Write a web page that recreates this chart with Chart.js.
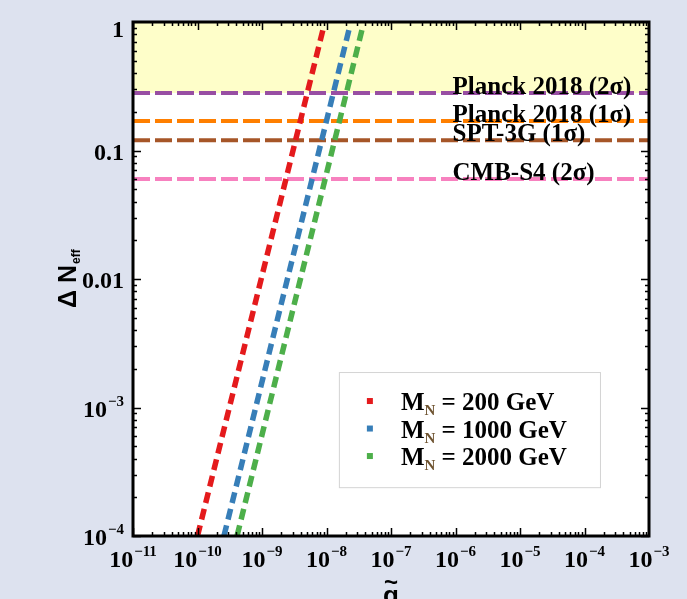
<!DOCTYPE html>
<html>
<head>
<meta charset="utf-8">
<script src="https://cdn.jsdelivr.net/npm/chart.js@4.4.1/dist/chart.umd.min.js"></script>
<style>
  html, body { margin: 0; padding: 0; background: #dde2ef; }
  #wrap { width: 687px; height: 599px; }
</style>
</head>
<body>
<div id="wrap"><canvas id="chart" width="687" height="599"></canvas></div>
<script>
// --- data ---
const xMin = 1e-11, xMax = 1e-3;
const yMin = 1e-4, yMax = 1;
const xTickExps = [-11, -10, -9, -8, -7, -6, -5, -4, -3];
const yTickVals = [1, 0.1, 0.01, 1e-3, 1e-4];
const yTickLabels = [['1', ''], ['0.1', ''], ['0.01', ''], ['10', '\u22123'], ['10', '\u22124']];

// Delta N_eff vs g~ for three heavy neutrino masses (end points of each line)
const massLabels = ['200 GeV', '1000 GeV', '2000 GeV'];
const massColors = ['#e41a1c', '#377eb8', '#4daf4a'];
const curveG = [[1.0e-10, 8.8e-9], [2.57e-10, 2.23e-8], [4.1e-10, 3.55e-8]];
const curveN = [[1e-4, 0.87], [1e-4, 0.87], [1e-4, 0.87]];

// experimental bounds
const boundNames = ['Planck 2018 (2\u03c3)', 'Planck 2018 (1\u03c3)', 'SPT-3G (1\u03c3)', 'CMB-S4 (2\u03c3)'];
const boundValues = [0.28, 0.17, 0.12, 0.06];
const boundColors = ['#984ea3', '#ff7f00', '#a65628', '#f781bf'];
const boundLabelG = 9e-7;

const serif = '"Liberation Serif", "Times New Roman", serif';
const sans = '"Liberation Sans", Arial, sans-serif';

// --- datasets ---
const datasets = [];
curveG.forEach(function(g, i) {
    datasets.push({
        label: massLabels[i],
        data: g.map(function(v, j) { return { x: v, y: curveN[i][j] }; }),
        borderColor: massColors[i],
        borderWidth: 5.5,
        borderDash: [11, 6],
        pointRadius: 0,
        fill: false
    });
});
boundValues.forEach(function(v, i) {
    datasets.push({
        label: boundNames[i],
        data: [{ x: xMin, y: v }, { x: xMax, y: v }],
        borderColor: boundColors[i],
        borderWidth: 4,
        borderDash: [17, 5],
        pointRadius: 0,
        // excluded region above Planck 2018 (2 sigma)
        fill: i === 0 ? 'end' : false,
        backgroundColor: '#fefec9'
    });
});

// draw "base^sup" text
function drawSup(ctx, base, sup, x, y, align, size, supSize, supRise) {
    ctx.font = 'bold ' + size + 'px ' + serif;
    const wb = ctx.measureText(base).width;
    ctx.font = 'bold ' + supSize + 'px ' + serif;
    const ws = sup ? ctx.measureText(sup).width + 1 : 0;
    const w = wb + ws;
    let x0 = x;
    if (align === 'center') x0 = x - w / 2;
    if (align === 'right') x0 = x - w;
    ctx.textAlign = 'left';
    ctx.textBaseline = 'alphabetic';
    ctx.font = 'bold ' + size + 'px ' + serif;
    ctx.fillText(base, x0, y);
    if (sup) {
        ctx.font = 'bold ' + supSize + 'px ' + serif;
        ctx.fillText(sup, x0 + wb + 1, y - supRise);
    }
}

const decorPlugin = {
    id: 'decor',
    beforeDraw: function(chart) {
        const ctx = chart.ctx, a = chart.chartArea;
        ctx.save();
        ctx.fillStyle = '#dde2ef';
        ctx.fillRect(0, 0, chart.width, chart.height);
        ctx.fillStyle = '#ffffff';
        ctx.fillRect(a.left, a.top, a.right - a.left, a.bottom - a.top);
        ctx.restore();
    },
    afterDatasetsDraw: function(chart) {
        const ctx = chart.ctx, a = chart.chartArea;
        const xs = chart.scales.x, ys = chart.scales.y;
        ctx.save();
        ctx.fillStyle = '#000';
        ctx.strokeStyle = '#000';

        // bound labels
        boundNames.forEach(function(name, i) {
            ctx.font = 'bold 25px ' + serif;
            ctx.textAlign = 'left';
            ctx.textBaseline = 'alphabetic';
            ctx.fillText(name, xs.getPixelForValue(boundLabelG), ys.getPixelForValue(boundValues[i]) + 1);
        });

        // inward ticks on all four sides
        ctx.lineWidth = 1.5;
        ctx.beginPath();
        for (let e = -11; e < -3; e++) {
            for (let k = 1; k <= 9; k++) {
                const v = k * Math.pow(10, e);
                const px = Math.round(xs.getPixelForValue(v)) + 0.5;
                const len = k === 1 ? 8 : 4;
                ctx.moveTo(px, a.bottom); ctx.lineTo(px, a.bottom - len);
                ctx.moveTo(px, a.top); ctx.lineTo(px, a.top + len);
            }
        }
        for (let e = -4; e < 0; e++) {
            for (let k = 1; k <= 9; k++) {
                const v = k * Math.pow(10, e);
                const py = Math.round(ys.getPixelForValue(v)) + 0.5;
                const len = k === 1 ? 8 : 4;
                ctx.moveTo(a.left, py); ctx.lineTo(a.left + len, py);
                ctx.moveTo(a.right, py); ctx.lineTo(a.right - len, py);
            }
        }
        ctx.stroke();

        // frame
        ctx.lineWidth = 3;
        ctx.strokeRect(a.left, a.top, a.right - a.left, a.bottom - a.top);

        // x tick labels
        xTickExps.forEach(function(e) {
            const px = xs.getPixelForValue(Math.pow(10, e));
            drawSup(ctx, '10', '\u2212' + (-e), px, a.bottom + 31, 'center', 24, 15, 11);
        });

        // y tick labels
        yTickVals.forEach(function(v, i) {
            const py = ys.getPixelForValue(v);
            const base = Math.max(py + 9, a.top + 15);
            drawSup(ctx, yTickLabels[i][0], yTickLabels[i][1], a.left - 9, base, 'right', 24, 15, 11);
        });

        // y axis title: Delta N_eff
        ctx.save();
        ctx.translate(a.left - 57, 308);
        ctx.rotate(-Math.PI / 2);
        ctx.textAlign = 'left';
        ctx.textBaseline = 'alphabetic';
        ctx.font = 'bold 25px ' + sans;
        const t1 = '\u0394 N';
        ctx.fillText(t1, 0, 0);
        const w1 = ctx.measureText(t1).width;
        ctx.font = 'bold 12px ' + sans;
        ctx.fillText('eff', w1 + 1, 4);
        ctx.restore();

        // x axis title: g tilde
        const cx = (a.left + a.right) / 2;
        ctx.textAlign = 'center';
        ctx.font = 'bold 26px ' + sans;
        ctx.fillText('g', cx, a.bottom + 68);
        ctx.font = 'bold 24px ' + sans;
        ctx.fillText('~', cx, a.bottom + 54);

        // legend
        const w = a.right - a.left, h = a.bottom - a.top;
        const lx = a.left + 0.399 * w, ly = a.top + 0.681 * h;
        const lw = 0.506 * w, lh = 0.224 * h;
        ctx.fillStyle = '#ffffff';
        ctx.fillRect(lx, ly, lw, lh);
        ctx.strokeStyle = '#d4d4d4';
        ctx.lineWidth = 1;
        ctx.strokeRect(lx + 0.5, ly + 0.5, lw, lh);
        massLabels.forEach(function(lab, i) {
            const by = ly + 38 + i * 27.5;
            ctx.fillStyle = massColors[i];
            ctx.fillRect(lx + 28, by - 12, 6, 6);
            ctx.fillStyle = '#000';
            ctx.textAlign = 'left';
            ctx.font = 'bold 25px ' + serif;
            let tx = lx + 62;
            ctx.fillText('M', tx, by);
            tx += ctx.measureText('M').width;
            ctx.font = 'bold 15px ' + serif;
            ctx.fillStyle = '#6e5330';
            ctx.fillText('N', tx, by + 5);
            tx += ctx.measureText('N').width;
            ctx.fillStyle = '#000';
            ctx.font = 'bold 25px ' + serif;
            ctx.fillText(' = ' + lab, tx, by);
        });
        ctx.restore();
    }
};

const ctx = document.getElementById('chart').getContext('2d');
new Chart(ctx, {
    type: 'line',
    data: { datasets: datasets },
    options: {
        responsive: false,
        animation: false,
        devicePixelRatio: 1,
        layout: { padding: { left: 133, top: 22, right: 38, bottom: 63 } },
        plugins: {
            legend: { display: false },
            tooltip: { enabled: false },
            filler: { propagate: false }
        },
        scales: {
            x: { type: 'logarithmic', min: xMin, max: xMax, display: false },
            y: { type: 'logarithmic', min: yMin, max: yMax, display: false }
        }
    },
    plugins: [decorPlugin]
});
</script>
</body>
</html>
